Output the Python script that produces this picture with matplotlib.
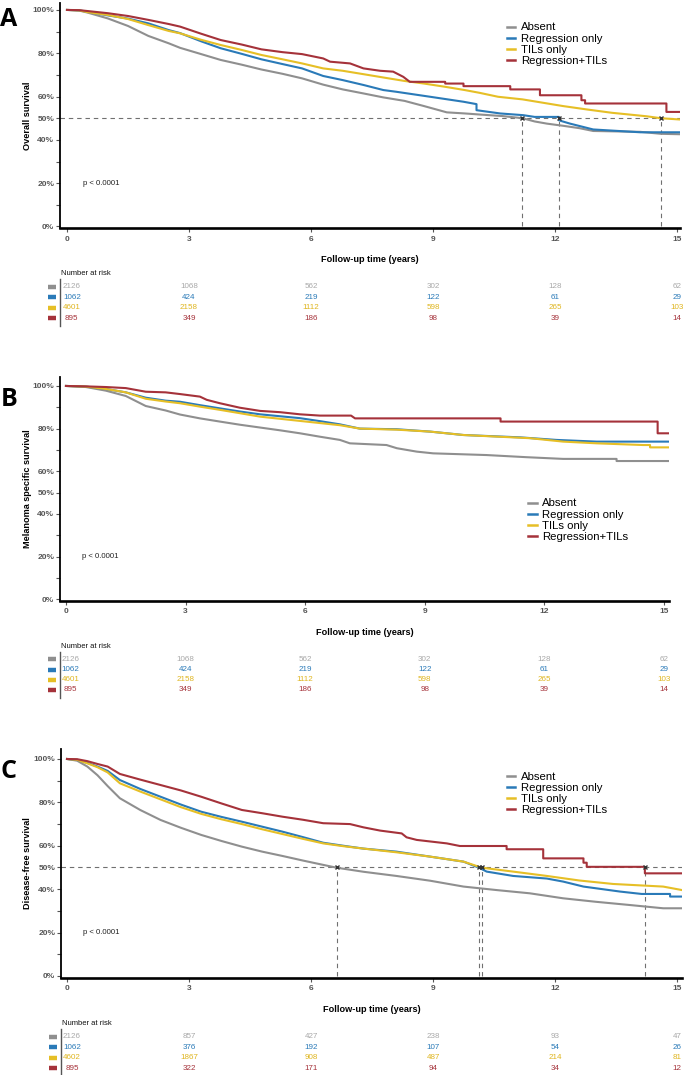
import matplotlib
matplotlib.use("Agg")
import matplotlib.pyplot as plt

plt.rcParams['font.family'] = ['Liberation Sans', 'DejaVu Sans']

# ---------------- data ----------------
groups = ["Absent", "Regression only", "TILs only", "Regression+TILs"]
line_colors = ['#8f8f8f', '#2a7ab8', '#e6bf26', '#a5323a']
risk_colors = ['#a8a8a8', '#2a7ab8', '#dfb51e', '#a5323a']
risk_times = [0, 3, 6, 9, 12, 15]
ytick_vals = [0, 0.2, 0.4, 0.5, 0.6, 0.8, 1.0]
ytick_labels = ["0%", "20%", "40%", "50%", "60%", "80%", "100%"]
yminor_vals = [0.1, 0.3, 0.7, 0.9]

# Panel A: overall survival
os_t_absent = [0, 0.3, 0.5, 1, 1.5, 2, 2.5, 2.78, 3.3, 3.78, 4.3, 4.78, 5.3, 5.78, 6.3, 6.78, 7.3, 7.78, 8.3, 8.78, 9.34, 9.78, 10.15, 10.7, 11.2, 11.5, 11.8, 12.2, 12.6, 12.94, 14.1, 14.6, 15.07]
os_s_absent = [1, 0.997, 0.988, 0.961, 0.926, 0.88, 0.846, 0.825, 0.796, 0.769, 0.747, 0.725, 0.705, 0.684, 0.655, 0.633, 0.614, 0.596, 0.58, 0.556, 0.527, 0.522, 0.517, 0.51, 0.5, 0.485, 0.475, 0.465, 0.454, 0.441, 0.437, 0.428, 0.426]
os_t_regr = [0, 0.3, 0.5, 1, 1.5, 2, 2.5, 2.78, 3.3, 3.78, 4.3, 4.78, 5.3, 5.78, 6.3, 6.78, 7.3, 7.78, 8.1, 8.93, 9.75, 10.07, 10.07, 10.65, 11.22, 11.5, 12.1, 12.1, 12.37, 12.94, 14.1, 15.07]
os_s_regr = [1, 0.998, 0.992, 0.975, 0.96, 0.938, 0.907, 0.893, 0.855, 0.823, 0.797, 0.772, 0.75, 0.73, 0.695, 0.676, 0.653, 0.63, 0.622, 0.599, 0.576, 0.565, 0.537, 0.522, 0.514, 0.506, 0.506, 0.49, 0.475, 0.448, 0.435, 0.435]
os_t_tils = [0, 0.3, 0.5, 1, 1.5, 2, 2.5, 2.78, 3.3, 3.78, 4.3, 4.78, 5.3, 5.78, 6.3, 6.78, 7.3, 7.78, 8.3, 8.78, 9.3, 9.78, 10.15, 10.6, 11.2, 12.2, 12.8, 13.4, 14.25, 14.6, 15.07]
os_s_tils = [1, 0.998, 0.99, 0.977, 0.958, 0.93, 0.903, 0.892, 0.862, 0.838, 0.815, 0.792, 0.772, 0.753, 0.73, 0.719, 0.703, 0.688, 0.672, 0.66, 0.645, 0.63, 0.617, 0.599, 0.587, 0.556, 0.54, 0.525, 0.509, 0.5, 0.494]
os_t_both = [0, 0.3, 0.5, 1, 1.5, 2, 2.5, 2.78, 3.3, 3.78, 4.3, 4.78, 5.3, 5.78, 6.3, 6.47, 6.96, 7.29, 7.7, 8.02, 8.27, 8.43, 9.3, 9.3, 9.75, 9.75, 10.9, 10.9, 11.63, 11.63, 12.65, 12.65, 12.74, 12.74, 14.74, 14.74, 15.07]
os_s_both = [1, 0.999, 0.995, 0.985, 0.972, 0.954, 0.935, 0.923, 0.89, 0.861, 0.84, 0.818, 0.805, 0.796, 0.776, 0.761, 0.753, 0.73, 0.719, 0.715, 0.691, 0.668, 0.668, 0.66, 0.66, 0.648, 0.648, 0.633, 0.633, 0.606, 0.606, 0.583, 0.583, 0.568, 0.568, 0.529, 0.529]
os_medians = [11.2, 12.1, 14.6]
os_risk_absent = [2126, 1068, 562, 302, 128, 62]
os_risk_regr = [1062, 424, 219, 122, 61, 29]
os_risk_tils = [4601, 2158, 1112, 598, 265, 103]
os_risk_both = [895, 349, 186, 98, 39, 14]

# Panel B: melanoma specific survival
mss_t_absent = [0, 0.5, 1, 1.5, 2, 2.5, 2.86, 3.36, 3.86, 4.37, 4.87, 5.37, 5.87, 6.37, 6.87, 7.12, 8.04, 8.3, 8.8, 9.21, 10.55, 11.55, 12.47, 13.81, 13.81, 15.12]
mss_s_absent = [1, 0.995, 0.978, 0.953, 0.906, 0.885, 0.866, 0.848, 0.833, 0.818, 0.805, 0.792, 0.778, 0.762, 0.747, 0.731, 0.723, 0.708, 0.692, 0.684, 0.676, 0.666, 0.658, 0.658, 0.648, 0.648]
mss_t_regr = [0, 0.5, 1, 1.5, 2, 2.5, 2.86, 3.36, 3.86, 4.37, 4.87, 5.37, 5.87, 6.37, 6.87, 7.37, 8.3, 9.13, 9.97, 11.39, 12.3, 13.31, 15.12]
mss_s_regr = [1, 0.997, 0.986, 0.97, 0.945, 0.931, 0.926, 0.91, 0.895, 0.88, 0.867, 0.858, 0.849, 0.835, 0.82, 0.80, 0.797, 0.786, 0.77, 0.759, 0.747, 0.739, 0.739]
mss_t_tils = [0, 0.5, 1, 1.5, 2, 2.5, 2.86, 3.36, 3.86, 4.37, 4.87, 5.37, 5.87, 6.37, 6.87, 7.37, 8.3, 9.13, 9.97, 11.64, 12.47, 13.31, 14.48, 14.65, 14.65, 15.12]
mss_s_tils = [1, 0.997, 0.986, 0.97, 0.94, 0.927, 0.919, 0.903, 0.888, 0.872, 0.856, 0.846, 0.836, 0.826, 0.816, 0.80, 0.795, 0.786, 0.77, 0.755, 0.739, 0.731, 0.723, 0.723, 0.712, 0.712]
mss_t_both = [0, 0.5, 1, 1.5, 2, 2.5, 2.86, 3.36, 3.53, 3.86, 4.36, 4.87, 5.37, 5.87, 6.37, 7.15, 7.25, 10.9, 10.9, 14.84, 14.84, 15.12]
mss_s_both = [1, 0.998, 0.995, 0.99, 0.973, 0.97, 0.962, 0.95, 0.935, 0.919, 0.898, 0.883, 0.877, 0.867, 0.861, 0.861, 0.848, 0.848, 0.833, 0.833, 0.778, 0.778]
mss_medians = []
mss_risk_absent = [2126, 1068, 562, 302, 128, 62]
mss_risk_regr = [1062, 424, 219, 122, 61, 29]
mss_risk_tils = [4601, 2158, 1112, 598, 265, 103]
mss_risk_both = [895, 349, 186, 98, 39, 14]

# Panel C: disease-free survival
dfs_t_absent = [0, 0.25, 0.5, 0.75, 1, 1.3, 1.8, 2.3, 2.8, 3.3, 3.8, 4.3, 4.8, 5.3, 5.8, 6.3, 6.63, 7.3, 8.1, 8.93, 9.75, 10.56, 11.38, 12.2, 13.0, 13.84, 14.66, 15.12]
dfs_s_absent = [1, 0.992, 0.965, 0.925, 0.875, 0.819, 0.765, 0.719, 0.683, 0.65, 0.622, 0.596, 0.573, 0.553, 0.532, 0.512, 0.499, 0.48, 0.461, 0.439, 0.412, 0.396, 0.381, 0.358, 0.342, 0.327, 0.312, 0.312]
dfs_t_regr = [0, 0.25, 0.5, 0.75, 1, 1.3, 1.8, 2.3, 2.8, 3.3, 3.8, 4.3, 4.8, 5.3, 5.8, 6.3, 6.8, 7.29, 8.1, 8.93, 9.75, 10.13, 10.32, 10.97, 11.8, 12.2, 12.7, 13.6, 14.13, 14.83, 14.83, 15.12]
dfs_s_regr = [1, 0.996, 0.982, 0.965, 0.945, 0.903, 0.862, 0.826, 0.79, 0.757, 0.733, 0.711, 0.688, 0.665, 0.64, 0.614, 0.60, 0.587, 0.573, 0.55, 0.527, 0.499, 0.481, 0.461, 0.449, 0.435, 0.412, 0.389, 0.378, 0.378, 0.366, 0.366]
dfs_t_tils = [0, 0.25, 0.5, 0.75, 1, 1.3, 1.8, 2.3, 2.8, 3.3, 3.8, 4.3, 4.8, 5.3, 5.8, 6.3, 6.8, 7.29, 8.1, 8.93, 9.75, 10.2, 10.97, 11.8, 12.6, 13.43, 14.66, 15.12]
dfs_s_tils = [1, 0.996, 0.98, 0.962, 0.938, 0.888, 0.85, 0.814, 0.778, 0.747, 0.722, 0.70, 0.676, 0.654, 0.632, 0.611, 0.598, 0.587, 0.57, 0.55, 0.527, 0.499, 0.481, 0.461, 0.44, 0.424, 0.412, 0.396]
dfs_t_both = [0, 0.25, 0.5, 0.75, 1, 1.3, 1.8, 2.3, 2.8, 3.3, 3.8, 4.3, 4.8, 5.3, 5.8, 6.3, 6.96, 7.29, 7.7, 8.23, 8.35, 8.6, 9.34, 9.66, 10.81, 10.81, 11.71, 11.71, 12.7, 12.7, 12.78, 12.78, 14.21, 14.21, 15.12]
dfs_s_both = [1, 0.999, 0.99, 0.977, 0.965, 0.931, 0.905, 0.88, 0.855, 0.826, 0.795, 0.765, 0.75, 0.734, 0.72, 0.704, 0.70, 0.685, 0.67, 0.657, 0.639, 0.627, 0.611, 0.599, 0.599, 0.584, 0.584, 0.542, 0.542, 0.522, 0.522, 0.503, 0.503, 0.473, 0.473]
dfs_medians = [6.63, 10.13, 10.2, 14.21]
dfs_risk_absent = [2126, 857, 427, 238, 93, 47]
dfs_risk_regr = [1062, 376, 192, 107, 54, 26]
dfs_risk_tils = [4602, 1867, 908, 487, 214, 81]
dfs_risk_both = [895, 322, 171, 94, 34, 12]

# ---------------- drawing ----------------
W, H = 685, 1075
fig = plt.figure(figsize=(W / 100, H / 100), dpi=100)


def px_axes(left, top, right, bottom):
    return fig.add_axes([left / W, 1 - bottom / H, (right - left) / W, (bottom - top) / H])


def draw_panel(letter, letter_y, box, xlim, ylim, curves, medians, ylabel,
               legend_xy, table_top, row_h, xlabel_y, risk):
    left, top, right, bottom = box
    ax = px_axes(left, top, right, bottom)
    for (t, s), c, g in zip(curves, line_colors, groups):
        ax.plot(t, s, color=c, lw=1.5, label=g, zorder=3)
    dash = dict(color='#707070', lw=0.8, ls=(0, (4, 3.5)), zorder=1)
    if medians:
        ax.axhline(0.5, **dash)
        for m in medians:
            ax.plot([m, m], [0, 0.5], **dash)
            ax.plot([m], [0.5], marker='x', color='#333333', ms=3.5, mew=1.0, zorder=5)
    ax.set_xlim(*xlim)
    ax.set_ylim(*ylim)
    ax.spines[['top', 'right']].set_visible(False)
    ax.spines['left'].set_linewidth(1.3)
    ax.spines['bottom'].set_linewidth(1.9)
    ax.set_xticks(risk_times)
    ax.set_yticks(ytick_vals)
    ax.set_yticklabels(ytick_labels)
    ax.set_yticks(yminor_vals, minor=True)
    ax.tick_params(axis='both', which='both', length=3, width=0.8, color='#555555',
                   labelsize=6, labelcolor='#555555')
    ax.tick_params(axis='y', pad=1.2)
    ax.tick_params(axis='x', pad=2.5)
    for lab in ax.get_xticklabels() + ax.get_yticklabels():
        lab.set_fontweight('bold')
    ax.text(0.4, 0.2, 'p < 0.0001', fontsize=5.6, va='center', ha='left', color='#222222')
    leg = ax.legend(loc='upper left', bbox_to_anchor=(legend_xy[0] / W, 1 - legend_xy[1] / H),
                    bbox_transform=fig.transFigure, frameon=False, fontsize=8.2,
                    handlelength=0.75, handletextpad=0.5, labelspacing=0.09,
                    borderpad=0, borderaxespad=0)
    for h in leg.legend_handles:
        h.set_linewidth(1.8)

    # labels
    fig.text(28 / W, 1 - (top + bottom) / 2 / H, ylabel, rotation=90, fontsize=6.6,
             fontweight='bold', ha='center', va='center')
    fig.text((left + right) / 2 / W, 1 - xlabel_y / H, 'Follow-up time (years)',
             fontsize=6.6, fontweight='bold', ha='center', va='center')
    fig.text(0.5 / W, 1 - letter_y / H, letter, fontsize=18, fontweight='bold',
             family=['Open Sans', 'DejaVu Sans'], ha='left', va='center')

    # number at risk table
    tax = px_axes(left, table_top, right, table_top + 4 * row_h)
    tax.set_xlim(*xlim)
    tax.set_ylim(4, 0)
    tax.axis('off')
    ytr = tax.get_yaxis_transform()
    tax.text(0.002, -0.8, 'Number at risk', transform=ytr, fontsize=5.5,
             ha='left', va='center', color='#111111')
    tax.plot([0, 0], [-0.25, 4.25], transform=ytr, color='#555555', lw=1.0, clip_on=False)
    for i, row in enumerate(risk):
        tax.plot([-0.02, -0.007], [i + 0.5, i + 0.5], transform=ytr, color=line_colors[i],
                 lw=3.2, solid_capstyle='butt', clip_on=False)
        for j, n in enumerate(row):
            x = risk_times[j] + (0.12 if j == 0 else 0)
            tax.text(x, i + 0.5, str(n), ha='center', va='center', fontsize=5.8,
                     color=risk_colors[i])
    return ax


draw_panel('A', 19, (60, 3, 680, 228), (-0.172, 15.074), (-0.007, 1.032),
           [(os_t_absent, os_s_absent), (os_t_regr, os_s_regr),
            (os_t_tils, os_s_tils), (os_t_both, os_s_both)],
           os_medians, 'Overall survival', (506.5, 22.5), 281.5, 10.5, 259,
           [os_risk_absent, os_risk_regr, os_risk_tils, os_risk_both])

draw_panel('B', 399, (60, 377, 669, 600.5), (-0.150, 15.125), (-0.006, 1.042),
           [(mss_t_absent, mss_s_absent), (mss_t_regr, mss_s_regr),
            (mss_t_tils, mss_s_tils), (mss_t_both, mss_s_both)],
           mss_medians, 'Melanoma specific survival', (528, 498.5), 654.2, 10.2, 632.7,
           [mss_risk_absent, mss_risk_regr, mss_risk_tils, mss_risk_both])

draw_panel('C', 771, (61, 749, 682, 977.5), (-0.148, 15.123), (-0.007, 1.046),
           [(dfs_t_absent, dfs_s_absent), (dfs_t_regr, dfs_s_regr),
            (dfs_t_tils, dfs_s_tils), (dfs_t_both, dfs_s_both)],
           dfs_medians, 'Disease-free survival', (506.5, 771.5), 1031.5, 10.5, 1010,
           [dfs_risk_absent, dfs_risk_regr, dfs_risk_tils, dfs_risk_both])

fig.savefig('out.png', dpi=100)
